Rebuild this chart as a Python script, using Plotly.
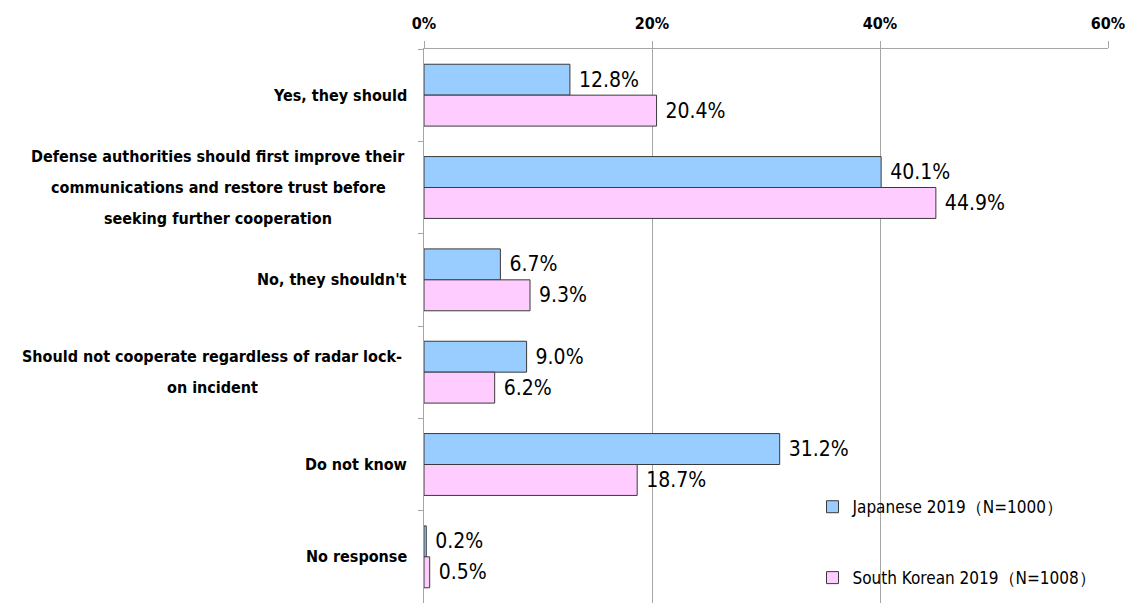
import plotly.graph_objects as go

CATEGORIES = [
    "Yes, they should",
    "Defense authorities should first improve their<br>communications and restore trust before<br>seeking further cooperation",
    "No, they shouldn't",
    "Should not cooperate regardless of radar lock-<br>on incident",
    "Do not know",
    "No response",
]
JAPANESE = [12.8, 40.1, 6.7, 9.0, 31.2, 0.2]
KOREAN = [20.4, 44.9, 9.3, 6.2, 18.7, 0.5]
SERIES_NAMES = ["Japanese 2019（N=1000）", "South Korean 2019（N=1008）"]
X_TICKS = [0, 20, 40, 60]
X_TICK_LABELS = ["0%", "20%", "40%", "60%"]

NARROW = "DejaVu Sans Condensed, Liberation Sans Narrow, Arial Narrow, sans-serif"
LINE_COLOR = "#3a3a3a"
GRID = "#a6a6a6"

fig = go.Figure()
for name, values, color, legend in [
    (SERIES_NAMES[0], JAPANESE, "#99ccff", "legend"),
    (SERIES_NAMES[1], KOREAN, "#ffccff", "legend2"),
]:
    fig.add_trace(
        go.Bar(
            x=values,
            y=CATEGORIES,
            orientation="h",
            name=name,
            legend=legend,
            showlegend=True,
            marker=dict(color=color, line=dict(color=LINE_COLOR, width=1)),
            texttemplate="\u00a0%{x:.1f}%",
            textposition="outside",
            constraintext="none",
            cliponaxis=False,
            textfont=dict(family=NARROW, size=21, color="#000"),
        )
    )

# category labels, one annotation per line so spacing matches the original
annotations = []
label_centers = {1: -206, 3: -212}
for idx, cat in enumerate(CATEGORIES):
    lines = cat.split("<br>")
    n = len(lines)
    for j, line in enumerate(lines):
        shift = (n - 1) / 2 * 31 - j * 31
        if n == 1:
            ann = dict(x=0, xanchor="right", xshift=-15)
        else:
            ann = dict(x=0, xanchor="center", xshift=label_centers[idx])
        annotations.append(
            dict(
                xref="paper",
                yref="y",
                y=cat,
                yshift=shift,
                text=line,
                showarrow=False,
                yanchor="middle",
                font=dict(family=NARROW, size=16, color="#000", weight="bold"),
                **ann,
            )
        )

legend_style = dict(
    xanchor="left", yanchor="middle",
    font=dict(family=NARROW, size=17, color="#000"),
    bgcolor="rgba(0,0,0,0)", itemwidth=30,
)
# page body adds an 8px offset, so the figure is sized to sit inside the window
fig.update_layout(
    width=1126,
    height=595,
    margin=dict(l=416, r=26, t=41, b=0, autoexpand=False),
    paper_bgcolor="white",
    plot_bgcolor="white",
    barmode="group",
    bargap=0.33,
    bargroupgap=0,
    showlegend=True,
    annotations=annotations,
    legend=dict(x=0.568, y=0.173, **legend_style),
    legend2=dict(x=0.568, y=0.045, **legend_style),
)
fig.update_xaxes(
    side="top",
    range=[0, 60],
    tickvals=X_TICKS,
    ticktext=X_TICK_LABELS,
    automargin=False,
    showgrid=True,
    gridcolor=GRID,
    gridwidth=1,
    zeroline=False,
    showline=True,
    linecolor=GRID,
    ticks="outside",
    ticklen=7,
    tickcolor=GRID,
    ticklabelstandoff=6,
    tickfont=dict(family=NARROW, size=16, color="#000", weight="bold"),
)
fig.update_yaxes(
    autorange="reversed",
    automargin=False,
    showticklabels=False,
    showline=True,
    linecolor=GRID,
    ticks="outside",
    tickson="boundaries",
    ticklen=5,
    tickcolor=GRID,
    showgrid=False,
)

fig.write_html("out.html")
